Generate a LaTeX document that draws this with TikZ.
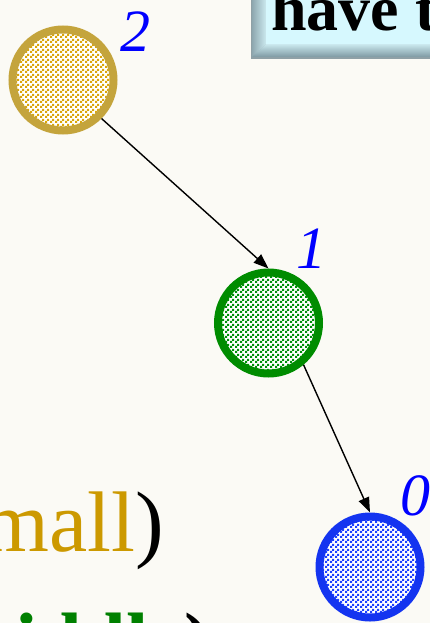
\documentclass[tikz,border=0pt]{standalone}
\usepackage{fontspec}
\setmainfont{Liberation Serif}
\usetikzlibrary{arrows.meta,patterns}
\pgfdeclarepatternformonly{mycheck}{\pgfqpoint{0pt}{0pt}}{\pgfqpoint{5pt}{5pt}}{\pgfqpoint{5pt}{5pt}}{%
 \pgfpathrectangle{\pgfpointorigin}{\pgfqpoint{2.5pt}{2.5pt}}%
 \pgfpathrectangle{\pgfqpoint{2.5pt}{2.5pt}}{\pgfqpoint{2.5pt}{2.5pt}}%
 \pgfusepath{fill}}
\definecolor{bg}{HTML}{FBFAF5}
\definecolor{goldring}{HTML}{C4A43C}
\definecolor{goldfill}{HTML}{D9A60A}
\definecolor{greenring}{HTML}{008C00}
\definecolor{greenfill}{HTML}{00900A}
\definecolor{bluering}{HTML}{1434F0}
\definecolor{bluefill}{HTML}{1E40FF}
\definecolor{labelblue}{HTML}{0000FF}
\definecolor{goldtext}{HTML}{CC9900}
\definecolor{greentext}{HTML}{008000}
\definecolor{boxfill}{HTML}{D6F8FE}
\definecolor{bevelA}{HTML}{8EA7AF}
\definecolor{bevelB}{HTML}{CBE9EF}
\definecolor{bevelC}{HTML}{7E99A2}
\definecolor{boxedge}{HTML}{8FA0A6}
\tikzset{
  vertex/.style={circle, inner sep=0pt, minimum size=101pt, line width=8pt,
    draw=#1ring, preaction={fill=white}, pattern=mycheck, pattern color=#1fill},
  arr/.style={-{Triangle[length=15pt,width=11pt]}, line width=1.4pt, black},
  lbl/.style={anchor=base west, inner sep=0pt, text=labelblue,
    font=\fontsize{60}{60}\selectfont\itshape},
}
\begin{document}
\begin{tikzpicture}[x=1pt,y=-1pt]
\useasboundingbox (0,0) rectangle (430,623);
\clip (0,0) rectangle (430,623);
\fill[bg] (0,0) rectangle (430,623);
% title box (cut at the edge)
\fill[boxedge] (251,-10) rectangle (445,58);
\shade[left color=bevelA, right color=bevelB] (252,-10) -- (266,-10) -- (266,44) -- (252,57) -- cycle;
\shade[top color=bevelB, bottom color=bevelC] (252,57) -- (266,44) -- (445,44) -- (445,57) -- cycle;
\fill[boxfill] (266,-10) rectangle (445,44);
\draw[boxedge, line width=0.8pt] (251,-10) rectangle (445,58);
\node[anchor=base west, inner sep=0pt, font=\fontsize{64}{64}\selectfont\bfseries] (title) at (271,31) {have t};
% vertices
\node[vertex=gold] (c2) at (63,80) {};
\node[vertex=green] (c1) at (268.5,323) {};
\node[vertex=blue] (c0) at (370,567) {};
\node[lbl] (l2) at (120,52) {2};
\node[lbl] (l1) at (296,268) {1};
\node[lbl] (l0) at (400,515) {0};
\draw[arr] (c2.-45) -- (c1.north);
\draw[arr] (c1.-50) -- (c0.north);
% partial text lines
\node[anchor=base east, inner sep=0pt, font=\fontsize{86}{86}\selectfont] (small) at (164,551) {\textcolor{goldtext}{mall})};
\node[anchor=base west, inner sep=0pt, font=\fontsize{80}{80}\selectfont\bfseries] (middle) at (15,668) {\textcolor{greentext}{iddle})};
\end{tikzpicture}
\end{document}
